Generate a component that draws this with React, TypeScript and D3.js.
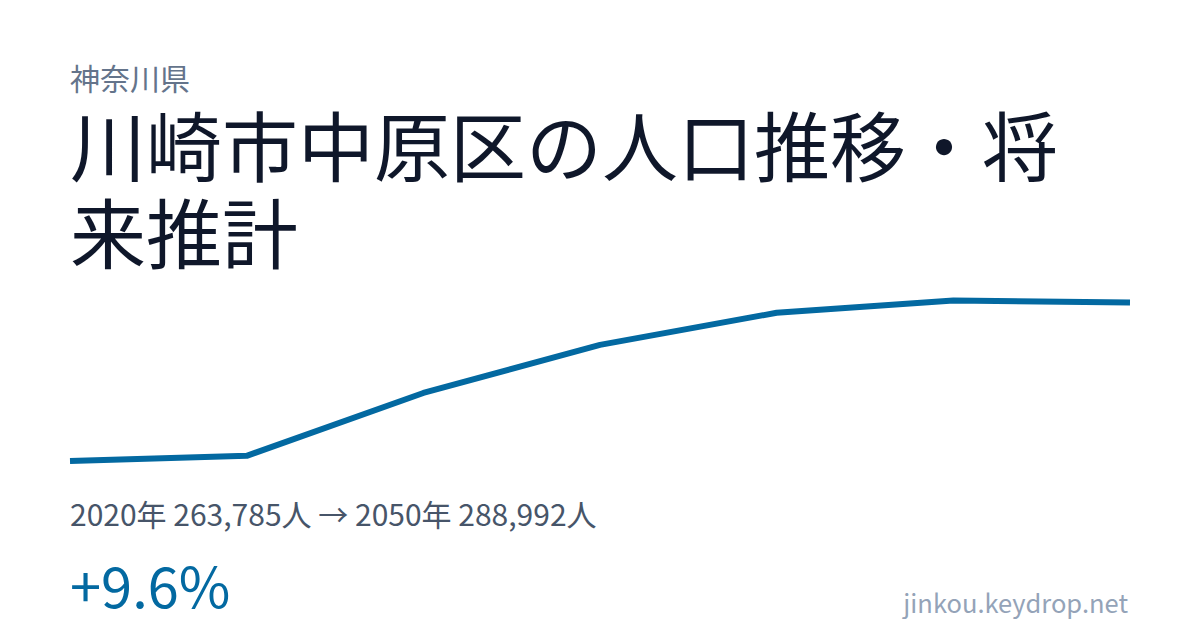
import * as d3 from 'd3'

const years = [2020, 2025, 2030, 2035, 2040, 2045, 2050]
const population = [263785, 264600, 274600, 282250, 287350, 289300, 288992]

const prefecture = '神奈川県'
const titleLines = ['川崎市中原区の人口推移・将', '来推計']
const summary = '2020年 263,785人 → 2050年 288,992人'
const change = '+9.6%'
const site = 'jinkou.keydrop.net'

const W = 1200
const H = 630
const FONT = '"Noto Sans CJK JP", "Noto Sans", sans-serif'

export default function App() {
  const x = d3.scaleLinear()
    .domain(d3.extent(years) as [number, number])
    .range([70, 1130])

  const y = d3.scaleLinear()
    .domain(d3.extent(population) as [number, number])
    .range([461, 300.5])

  const line = d3.line<number>()
    .x((_, i) => x(years[i]))
    .y(d => y(d))

  return (
    <svg
      width={W}
      height={H}
      viewBox={`0 0 ${W} ${H}`}
      style={{ position: 'fixed', left: 0, top: 0, background: '#ffffff' }}
      fontFamily={FONT}
    >
      <rect width={W} height={H} fill="#ffffff" />

      <text x={70} y={90} fontSize={30} fill="#64748b">{prefecture}</text>

      {titleLines.map((t, i) => (
        <text key={i} x={70} y={176 + i * 87} fontSize={76} fill="#0f172a">{t}</text>
      ))}

      <path
        d={line(population) ?? ''}
        fill="none"
        stroke="#0369a1"
        strokeWidth={6}
        strokeLinejoin="round"
      />

      <text x={70} y={526} fontSize={30} fill="#475569">{summary}</text>

      <text x={70} y={608} fontSize={56} fill="#0369a1">{change}</text>

      <text x={1128} y={613} fontSize={25.5} fill="#94a3b8" textAnchor="end">{site}</text>
    </svg>
  )
}
